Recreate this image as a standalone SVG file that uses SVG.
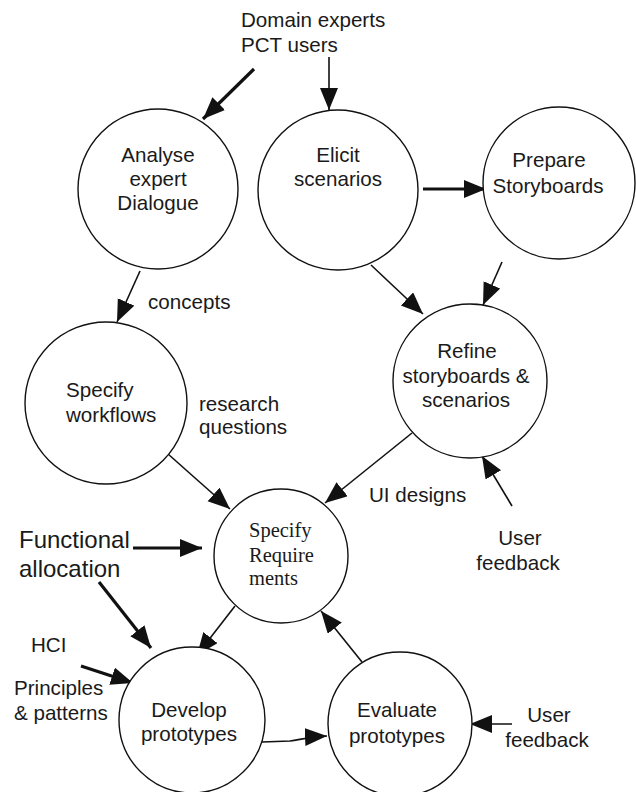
<svg xmlns="http://www.w3.org/2000/svg" width="636" height="792" viewBox="0 0 636 792">
<style>
.node{fill:#fff;stroke:#111;stroke-width:1.4}
.t{font-family:"Liberation Sans",Arial,sans-serif;font-size:20.6px;fill:#1a1a1a}
.c{text-anchor:middle}
.serif{font-family:"Liberation Serif","Times New Roman",serif;font-size:20.5px;fill:#1a1a1a}
.big{font-size:24px}
.thin{fill:none;stroke:#111;stroke-width:1.6;marker-end:url(#ah)}
.thick{fill:none;stroke:#111;stroke-width:3.2;marker-end:url(#ah)}
</style>
<defs>
<marker id="ah" markerUnits="userSpaceOnUse" markerWidth="24" markerHeight="20" refX="22" refY="9" orient="auto">
<path d="M0,0 L22,9 L0,18 Z" fill="#111"/>
</marker>
</defs>
<rect width="636" height="792" fill="#fff"/>

<g id="connectors">
<line class="thick" x1="254" y1="69" x2="203" y2="119"/>
<line class="thin" x1="329" y1="57" x2="329" y2="110"/>
<line class="thick" x1="423" y1="189" x2="486" y2="189"/>
<line class="thin" x1="140" y1="271" x2="117" y2="322"/>
<line class="thin" x1="371" y1="265" x2="423" y2="314"/>
<line class="thin" x1="502" y1="262" x2="483" y2="305"/>
<line class="thin" x1="168" y1="454" x2="230" y2="509"/>
<line class="thin" x1="412" y1="433" x2="325" y2="503"/>
<line class="thin" x1="512" y1="506" x2="482" y2="456"/>
<line class="thick" x1="133" y1="548" x2="202" y2="548"/>
<line class="thick" x1="99" y1="582" x2="151" y2="648"/>
<line class="thin" x1="235" y1="606" x2="197" y2="655"/>
<line class="thick" x1="81" y1="666" x2="133" y2="683"/>
<path class="thin" d="M262,742 L290,741 C300,740 305,737 327,736"/>
<line class="thin" x1="362" y1="662" x2="321" y2="611"/>
<line class="thin" x1="512" y1="724" x2="470" y2="724"/>
</g>

<g id="analyse">
<circle class="node" cx="158" cy="189" r="80"/>
<text class="t c" x="158" y="162">Analyse</text>
<text class="t c" x="158" y="186">expert</text>
<text class="t c" x="158" y="210">Dialogue</text>
</g>
<g id="elicit">
<circle class="node" cx="338" cy="190" r="80"/>
<text class="t c" x="338" y="162">Elicit</text>
<text class="t c" x="338" y="186">scenarios</text>
</g>
<g id="prepare">
<circle class="node" cx="559" cy="183" r="76"/>
<text class="t c" x="549" y="167">Prepare</text>
<text class="t c" x="548" y="193">Storyboards</text>
</g>
<g id="workflows">
<circle class="node" cx="106" cy="403" r="81"/>
<text class="t" x="66" y="397">Specify</text>
<text class="t" x="66" y="422">workflows</text>
</g>
<g id="refine">
<circle class="node" cx="470" cy="381" r="77"/>
<text class="t c" x="467" y="358">Refine</text>
<text class="t c" x="466" y="383">storyboards &amp;</text>
<text class="t c" x="466" y="407">scenarios</text>
</g>
<g id="requirements">
<circle class="node" cx="281" cy="556" r="67"/>
<text class="serif" x="249" y="537">Specify</text>
<text class="serif" x="249" y="562">Require</text>
<text class="serif" x="249" y="585">ments</text>
</g>
<g id="develop">
<circle class="node" cx="192" cy="720" r="73"/>
<text class="t c" x="189" y="717">Develop</text>
<text class="t c" x="189" y="741">prototypes</text>
</g>
<g id="evaluate">
<circle class="node" cx="400" cy="724" r="72"/>
<text class="t c" x="397" y="717">Evaluate</text>
<text class="t c" x="397" y="743">prototypes</text>
</g>

<g id="labels">
<text class="t" x="241" y="27">Domain experts</text>
<text class="t" x="241" y="52">PCT users</text>
<text class="t" x="148" y="309">concepts</text>
<text class="t" x="199" y="411">research</text>
<text class="t" x="199" y="434">questions</text>
<text class="t" x="369" y="502">UI designs</text>
<text class="t c" x="520" y="545">User</text>
<text class="t c" x="518" y="570">feedback</text>
<text class="t big" x="19" y="548">Functional</text>
<text class="t big" x="19" y="577">allocation</text>
<text class="t" x="31" y="652">HCI</text>
<text class="t" x="14" y="695">Principles</text>
<text class="t" x="14" y="720">&amp; patterns</text>
<text class="t c" x="549" y="722">User</text>
<text class="t c" x="547" y="747">feedback</text>
</g>
</svg>
